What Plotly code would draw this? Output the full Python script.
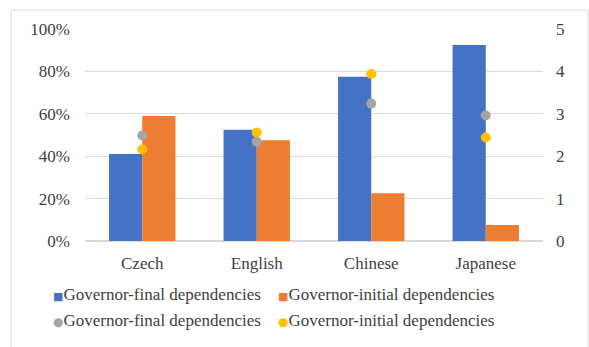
import plotly.graph_objects as go

languages = ["Czech", "English", "Chinese", "Japanese"]
final_share = [41, 52.5, 77.5, 92.5]      # % governor-final (left axis)
initial_share = [59, 47.5, 22.5, 7.5]     # % governor-initial (left axis)
final_dist = [2.49, 2.34, 3.24, 2.96]     # mean distance, governor-final (right axis)
initial_dist = [2.16, 2.56, 3.94, 2.44]   # mean distance, governor-initial (right axis)
left_ticks = [0, 20, 40, 60, 80, 100]
left_labels = ["0%", "20%", "40%", "60%", "80%", "100%"]
right_ticks = [0, 1, 2, 3, 4, 5]
series_names = ["Governor-final dependencies", "Governor-initial dependencies"]

W, H = 589, 347
ML, MR, MT, MB = 85, 46, 29, 106
PW, PH = W - ML - MR, H - MT - MB

FONT = dict(family="Liberation Serif", size=17, color="#404040")
BLUE, ORANGE, GRAY, YELLOW = "#4472C4", "#ED7D31", "#A5A5A5", "#FFC000"

fig = go.Figure()
fig.add_trace(go.Bar(x=languages, y=final_share, name=series_names[0],
                     marker=dict(color=BLUE, line=dict(width=0))))
fig.add_trace(go.Bar(x=languages, y=initial_share, name=series_names[1],
                     marker=dict(color=ORANGE, line=dict(width=0))))
fig.add_trace(go.Scatter(x=languages, y=final_dist, name=series_names[0],
                         mode="markers", yaxis="y2",
                         marker=dict(color=GRAY, size=10)))
fig.add_trace(go.Scatter(x=languages, y=initial_dist, name=series_names[1],
                         mode="markers", yaxis="y2",
                         marker=dict(color=YELLOW, size=10)))

def px_x(p):
    return (p - ML) / PW

def px_y(p):
    return (H - MB - p) / PH

# light frame around the whole chart
fig.add_shape(type="rect", xref="paper", yref="paper",
              x0=px_x(11), x1=px_x(588), y0=px_y(350), y1=px_y(10),
              line=dict(color="#D9D9D9", width=1), layer="below")

# compact two-column key under the plot (tight symbol-to-text spacing)
key_entries = [
    ("■", BLUE, series_names[0], 51, 294, 11),
    ("■", ORANGE, series_names[1], 276, 294, 11),
    ("●", GRAY, series_names[0], 51, 320, 12),
    ("●", YELLOW, series_names[1], 276, 320, 12),
]
for glyph, color, label, kx, ky, gsize in key_entries:
    fig.add_annotation(
        xref="paper", yref="paper", x=px_x(kx), y=px_y(ky),
        xanchor="left", yanchor="middle", showarrow=False,
        text=f'<span style="color:{color};font-size:{gsize}px;font-family:DejaVu Sans">{glyph}</span>{label}',
        font=FONT,
    )

fig.update_layout(
    width=W, height=H,
    margin=dict(l=ML, r=MR, t=MT, b=MB),
    paper_bgcolor="white", plot_bgcolor="white",
    font=FONT,
    barmode="group", bargap=0.42, bargroupgap=0,
    showlegend=False,
    xaxis=dict(showgrid=False, showline=False, ticks="", tickfont=FONT,
               ticklabelstandoff=10),
    yaxis=dict(range=[0, 100], tickvals=left_ticks, ticktext=left_labels,
               showgrid=True, gridcolor="#D9D9D9", gridwidth=1, zeroline=True,
               zerolinecolor="#D9D9D9", showline=False, ticks="", tickfont=FONT,
               ticklabelstandoff=14),
    yaxis2=dict(range=[0, 5], tickvals=right_ticks, overlaying="y", side="right",
                showgrid=False, zeroline=False, showline=False, ticks="", tickfont=FONT,
                ticklabelstandoff=12),
)

fig.write_html("out.html")
